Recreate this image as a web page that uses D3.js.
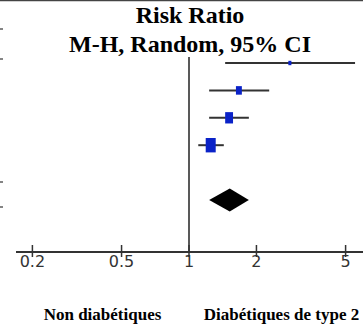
<!DOCTYPE html>
<html>
<head>
<meta charset="utf-8">
<script src="https://cdn.jsdelivr.net/npm/d3@7"></script>
<style>
  html, body { margin: 0; padding: 0; background: #fff; }
  svg { display: block; }
</style>
</head>
<body>
<div id="chart"></div>
<script>
// study rows (risk ratio, 95% CI, weight %)
const studies = ["Étude 1", "Étude 2", "Étude 3", "Étude 4"];
const ratios = [2.82, 1.67, 1.51, 1.25];
const lower = [1.45, 1.23, 1.23, 1.10];
const upper = [5.51, 2.28, 1.85, 1.43];
const weights = [4.5, 17, 30, 48.5];

// pooled estimate
const total = { ratio: 1.52, lower: 1.23, upper: 1.85 };

const tickValues = [0.2, 0.5, 1, 2, 5];
const tickLabels = ["0.2", "0.5", "1", "2", "5"];
const titleLines = ["Risk Ratio", "M-H, Random, 95% CI"];
const sideLabels = ["Non diabétiques", "Diabétiques de type 2"];

const width = 363, height = 328;
const axisY = 252;

const svg = d3.select("#chart").append("svg")
  .attr("width", width)
  .attr("height", height)
  .style("background", "#fff");

const x = d3.scaleLog().domain([0.2, 5]).range([32.4, 345.6]);
// row index -> vertical position (total sits after a blank row)
const y = d3.scaleLinear().domain([0, 5]).range([63, 200]);
const boxSize = d3.scaleSqrt().domain([0, 48.5]).range([0, 10]);

// top border + cropped left ticks
svg.append("line")
  .attr("x1", 0).attr("x2", width)
  .attr("y1", 0.5).attr("y2", 0.5)
  .attr("stroke", "#444").attr("stroke-width", 1.5);

svg.append("g").selectAll("line")
  .data([29, 59, 182, 207])
  .join("line")
  .attr("x1", 0).attr("x2", 3)
  .attr("y1", d => d).attr("y2", d => d)
  .attr("stroke", "#333").attr("stroke-width", 1.2);

// title
svg.append("g").selectAll("text")
  .data(titleLines)
  .join("text")
  .attr("x", 190)
  .attr("y", (d, i) => 23 + i * 29)
  .attr("text-anchor", "middle")
  .style("font-family", "'Liberation Serif', 'Times New Roman', serif")
  .style("font-weight", "bold")
  .style("font-size", "24px")
  .attr("fill", "#000")
  .text(d => d);

// line of no effect
svg.append("line")
  .attr("x1", x(1)).attr("x2", x(1))
  .attr("y1", 57).attr("y2", axisY)
  .attr("stroke", "#222").attr("stroke-width", 1.5);

// axis
const axis = svg.append("g").attr("transform", `translate(0,${axisY})`);
axis.append("line")
  .attr("x1", 16).attr("x2", width)
  .attr("y1", 0).attr("y2", 0)
  .attr("stroke", "#333").attr("stroke-width", 2);

axis.selectAll(".tick")
  .data(tickValues)
  .join("line")
  .attr("class", "tick")
  .attr("x1", d => x(d)).attr("x2", d => x(d))
  .attr("y1", -7).attr("y2", 5)
  .attr("stroke", "#333").attr("stroke-width", 1.5);

axis.selectAll(".tick-label")
  .data(tickValues)
  .join("text")
  .attr("class", "tick-label")
  .attr("x", d => x(d))
  .attr("y", 15)
  .attr("text-anchor", "middle")
  .style("font-family", "'DejaVu Sans', sans-serif")
  .style("font-size", "16px")
  .attr("fill", "#333")
  .text((d, i) => tickLabels[i]);

// confidence intervals
const rows = svg.append("g");
rows.selectAll("line")
  .data(studies)
  .join("line")
  .attr("x1", (d, i) => x(lower[i]))
  .attr("x2", (d, i) => x(upper[i]))
  .attr("y1", (d, i) => y(i)).attr("y2", (d, i) => y(i))
  .attr("stroke", "#333").attr("stroke-width", 2);

// weighted boxes
rows.selectAll("rect")
  .data(studies)
  .join("rect")
  .attr("x", (d, i) => x(ratios[i]) - boxSize(weights[i]) / 2)
  .attr("y", (d, i) => y(i) - boxSize(weights[i]) * 0.72)
  .attr("width", (d, i) => boxSize(weights[i]))
  .attr("height", (d, i) => boxSize(weights[i]) * 1.44)
  .attr("fill", "#0a22c8");

// pooled diamond
const dy = y(5);
svg.append("path")
  .attr("d", `M${x(total.lower)},${dy} L${x(total.ratio)},${dy - 11.5} L${x(total.upper)},${dy} L${x(total.ratio)},${dy + 11.5} Z`)
  .attr("fill", "#000");

// favours labels
svg.append("g").selectAll("text")
  .data(sideLabels)
  .join("text")
  .attr("x", (d, i) => i === 0 ? 102.5 : 281.5)
  .attr("y", 320)
  .attr("text-anchor", "middle")
  .style("font-family", "'Liberation Serif', 'Times New Roman', serif")
  .style("font-weight", "bold")
  .style("font-size", "17px")
  .attr("fill", "#000")
  .text(d => d);
</script>
</body>
</html>
